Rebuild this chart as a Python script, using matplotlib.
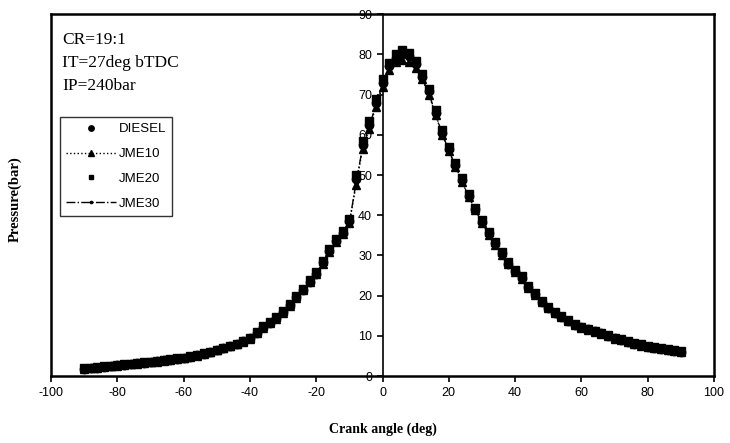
import numpy as np
import matplotlib.pyplot as plt

plt.rcParams['axes.unicode_minus'] = False

# crank angle (deg), 2 deg steps
angle = np.arange(-90, 91, 2)

# cylinder pressure (bar)
diesel = [1.8, 2.0, 2.1, 2.3, 2.5, 2.7, 2.8, 3.0, 3.2, 3.3,
          3.5, 3.7, 3.9, 4.1, 4.3, 4.5, 4.8, 5.2, 5.6, 6.0,
          6.5, 7.0, 7.5, 8.0, 8.7, 9.4, 10.8, 12.2, 13.3, 14.5,
          16.0, 17.7, 19.7, 21.5, 23.5, 25.5, 28.3, 31.2, 33.7, 35.7,
          38.5, 49.0, 57.5, 62.5, 68.0, 73.0, 77.0, 79.0, 80.0, 79.5,
          77.5, 74.5, 70.8, 65.5, 60.5, 56.5, 52.5, 48.7, 44.8, 41.5,
          38.3, 35.5, 33.0, 30.5, 28.0, 26.2, 24.5, 22.2, 20.3, 18.5,
          17.0, 15.8, 14.8, 13.8, 12.8, 12.1, 11.6, 11.1, 10.6, 10.0,
          9.4, 9.0, 8.6, 8.1, 7.7, 7.3, 7.0, 6.8, 6.5, 6.3,
          6.0]
jme10 = [1.7, 1.9, 2.1, 2.2, 2.4, 2.6, 2.8, 2.9, 3.1, 3.3,
         3.4, 3.6, 3.8, 4.0, 4.2, 4.4, 4.7, 5.1, 5.5, 5.9,
         6.4, 6.9, 7.4, 7.9, 8.5, 9.2, 10.6, 12.0, 13.1, 14.3,
         15.8, 17.5, 19.4, 21.3, 23.3, 25.3, 28.0, 30.9, 33.4, 35.4,
         38.0, 47.5, 56.5, 61.5, 67.0, 72.0, 76.0, 78.0, 78.5, 78.2,
         76.5, 73.8, 70.0, 65.0, 60.0, 56.0, 52.0, 48.3, 44.5, 41.2,
         38.0, 35.2, 32.7, 30.2, 27.8, 26.0, 24.2, 22.0, 20.1, 18.4,
         16.9, 15.7, 14.7, 13.7, 12.7, 12.0, 11.5, 11.0, 10.5, 9.9,
         9.3, 8.9, 8.5, 8.0, 7.6, 7.2, 6.9, 6.7, 6.4, 6.2,
         5.9]
jme20 = [1.9, 2.1, 2.2, 2.4, 2.6, 2.8, 2.9, 3.1, 3.3, 3.4,
         3.6, 3.8, 4.0, 4.2, 4.4, 4.6, 4.9, 5.3, 5.7, 6.1,
         6.6, 7.1, 7.6, 8.1, 8.8, 9.6, 11.0, 12.4, 13.5, 14.7,
         16.2, 17.9, 19.9, 21.7, 23.8, 25.8, 28.6, 31.5, 34.0, 36.0,
         39.0, 50.0, 58.5, 63.5, 69.0, 74.0, 77.8, 80.0, 81.0, 80.3,
         78.3, 75.2, 71.5, 66.2, 61.2, 57.0, 53.0, 49.2, 45.2, 41.9,
         38.7, 35.8, 33.3, 30.8, 28.3, 26.5, 24.8, 22.5, 20.6, 18.7,
         17.2, 16.0, 15.0, 14.0, 13.0, 12.3, 11.8, 11.3, 10.8, 10.2,
         9.6, 9.2, 8.8, 8.3, 7.9, 7.5, 7.2, 7.0, 6.7, 6.5,
         6.2]
jme30 = [1.8, 1.9, 2.1, 2.3, 2.5, 2.6, 2.8, 3.0, 3.1, 3.3,
         3.5, 3.7, 3.9, 4.1, 4.3, 4.5, 4.8, 5.1, 5.5, 6.0,
         6.5, 7.0, 7.5, 8.0, 8.6, 9.3, 10.7, 12.1, 13.2, 14.4,
         15.9, 17.6, 19.6, 21.4, 23.4, 25.4, 28.2, 31.0, 33.5, 35.5,
         38.2, 48.0, 57.0, 62.0, 67.5, 72.5, 76.5, 77.8, 78.0, 77.8,
         76.8, 74.0, 70.3, 65.2, 60.2, 56.2, 52.2, 48.5, 44.6, 41.3,
         38.1, 35.3, 32.8, 30.3, 27.9, 26.1, 24.3, 22.1, 20.2, 18.4,
         16.9, 15.7, 14.7, 13.7, 12.7, 12.0, 11.5, 11.0, 10.5, 9.9,
         9.3, 8.9, 8.5, 8.0, 7.6, 7.2, 6.9, 6.7, 6.4, 6.2,
         5.9]

fig = plt.figure(figsize=(7.3, 4.43), dpi=100)
ax = fig.add_axes([0.07, 0.151, 0.908, 0.817])

ax.plot(angle, diesel, linestyle='none', marker='o', ms=6, color='black', label='DIESEL')
ax.plot(angle, jme10, linestyle=':', lw=1, marker='^', ms=6, color='black', label='JME10')
ax.plot(angle, jme20, linestyle='none', marker='s', ms=5.5, color='black', label='JME20')
ax.plot(angle, jme30, linestyle='-.', lw=1, marker='.', ms=5, color='black', label='JME30')

ax.set_xlim(-100, 100)
ax.set_ylim(0, 90)
ax.set_xticks(np.arange(-100, 101, 20))
ax.set_yticks(np.arange(0, 91, 10))

# y axis through crank angle 0, box frame kept on the left
ax.spines['left'].set_position(('data', 0))
ax.spines['left'].set_linewidth(1.2)
for s in ['top', 'right', 'bottom']:
    ax.spines[s].set_linewidth(1.8)
ax.plot([0, 0], [0, 1], transform=ax.transAxes, color='black', lw=1.8, clip_on=False)

ax.tick_params(axis='both', direction='out', length=4, width=1.2, labelsize=9)
for lab in ax.get_xticklabels() + ax.get_yticklabels():
    lab.set_family('Liberation Sans')

ax.set_xlabel('Crank angle (deg)', family='Liberation Serif', fontsize=10, fontweight='bold')
ax.set_ylabel('Pressure(bar)', family='Liberation Serif', fontsize=10.5, fontweight='bold')
ax.xaxis.set_label_coords(0.5, -0.128)
ax.yaxis.set_label_coords(-0.045, 0.49)

ax.text(0.017, 0.952, 'CR=19:1\nIT=27deg bTDC\nIP=240bar', transform=ax.transAxes,
        va='top', ha='left', family='Liberation Serif', fontsize=12.5, linespacing=1.6)

leg = ax.legend(loc='upper left', bbox_to_anchor=(0.013, 0.715), numpoints=1,
                prop={'family': 'Liberation Sans', 'size': 9.5}, frameon=True,
                fancybox=False, edgecolor='black', handlelength=3.8,
                borderpad=0.45, labelspacing=0.95, handletextpad=0.2,
                borderaxespad=0, markerscale=0.65)
leg.get_frame().set_linewidth(1.0)

fig.savefig('out.png', dpi=100)
